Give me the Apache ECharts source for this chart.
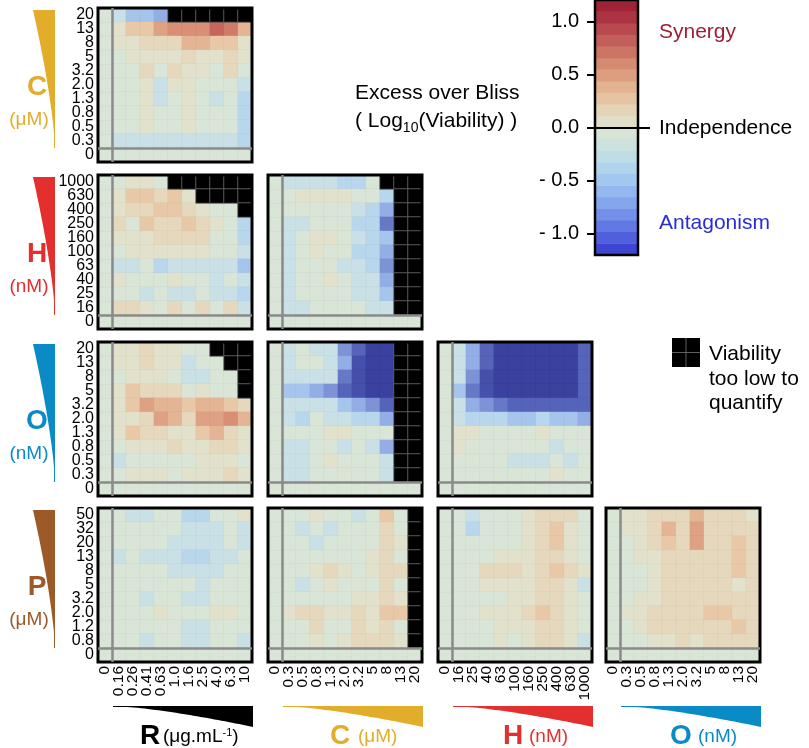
<!DOCTYPE html>
<html><head><meta charset="utf-8">
<script src="https://cdn.jsdelivr.net/npm/echarts@6/dist/echarts.min.js"></script>
<style>html,body{margin:0;padding:0;background:#fff}#c{width:809px;height:748px}</style>
</head><body><div id="c"></div>
<script>
// ---- concentrations (tick labels), lowest first ----
const R_conc = ['0','0.16','0.26','0.41','0.63','1.0','1.6','2.5','4.0','6.3','10'];
const C_conc = ['0','0.3','0.5','0.8','1.3','2.0','3.2','5','8','13','20'];
const H_conc = ['0','16','25','40','63','100','160','250','400','630','1000'];
const O_conc = ['0','0.3','0.5','0.8','1.3','2.0','3.2','5','8','13','20'];
const P_conc = ['0','0.8','1.2','2.0','3.2','5','8','13','20','32','50'];
const X = null; // viability too low to quantify

// ---- excess over Bliss; rows: highest conc first; cols: lowest nonzero conc first ----
const C_vs_R = [
 [-0.15,-0.35,-0.38,-0.45,X,X,X,X,X,X],
 [0.1,0.3,0.3,0.5,0.55,0.62,0.55,0.8,0.7,0.4],
 [0.05,0.1,0.15,0.2,0.2,0.35,0.35,0.25,0.25,0.05],
 [-0.05,0.05,0.1,0.1,0.1,0.15,0.1,0.1,0.2,0.05],
 [-0.05,0,0.15,-0.05,0.2,0.05,0.05,0,0.15,-0.05],
 [-0.05,-0.05,0.05,-0.12,0.05,0.1,0,0,0,-0.15],
 [-0.05,-0.05,0.05,-0.12,0,0.05,0,-0.12,-0.05,-0.25],
 [-0.05,0,0.05,0,0,0.1,0,-0.05,-0.05,-0.25],
 [-0.05,0,0.05,0,0,0.05,0,-0.05,-0.05,-0.22],
 [-0.15,-0.15,-0.12,-0.12,-0.12,-0.12,-0.2,-0.12,-0.15,-0.3]
];
const H_vs_R = [
 [0,0.1,0.1,-0.05,X,X,X,X,X,X],
 [0.05,0.3,0.25,0.2,0.3,0.05,X,X,X,X],
 [0.05,0.2,0.2,0.3,0.25,0.15,0.05,0,-0.05,X],
 [0.12,0,0.3,0.15,0.15,0.3,0.2,0.05,-0.05,-0.25],
 [0.05,0.05,0.05,0.15,0.15,0.12,0.15,0,0,-0.22],
 [0,0.05,0.05,0.1,0.1,0.1,0.05,0,-0.05,-0.15],
 [-0.2,-0.15,-0.05,-0.25,-0.12,-0.12,-0.15,-0.15,-0.2,-0.42],
 [0.05,0,0,0,0.1,0,-0.05,-0.12,0,-0.2],
 [0,-0.05,-0.12,-0.05,-0.12,-0.12,-0.05,-0.12,-0.12,-0.22],
 [0.12,0.15,0.05,0,0.15,0,0.15,0,0.12,-0.12]
];
const H_vs_C = [
 [-0.2,-0.2,-0.15,-0.15,-0.22,-0.25,-0.05,X,X,X],
 [-0.05,0.05,0.05,0.1,0.05,0,0,-0.3,X,X],
 [-0.05,-0.05,-0.05,0,-0.05,-0.12,-0.25,-0.5,X,X],
 [-0.15,-0.12,-0.05,-0.05,-0.05,-0.25,-0.3,-0.7,X,X],
 [-0.12,-0.05,0.08,0.05,-0.05,-0.15,-0.22,-0.4,X,X],
 [-0.12,-0.05,0.05,0,-0.05,-0.22,-0.3,-0.5,X,X],
 [-0.15,-0.05,0,0,-0.12,-0.15,-0.28,-0.62,X,X],
 [-0.12,0,0,0.1,-0.05,-0.12,-0.2,-0.45,X,X],
 [-0.12,-0.05,0,0,-0.05,-0.12,-0.2,-0.4,X,X],
 [-0.15,-0.15,-0.05,-0.05,-0.05,-0.05,-0.12,-0.15,X,X]
];
const O_vs_R = [
 [0.05,0.05,0.15,0.1,0.1,-0.05,0,X,X,X],
 [0.05,0.05,0.2,0.1,0.05,-0.15,0,-0.05,X,X],
 [0,0.05,0.1,0.05,0,-0.15,-0.12,0,-0.05,X],
 [0.05,0.25,0.2,0.2,0.15,0,0.05,0,-0.05,X],
 [0.1,0.3,0.45,0.4,0.35,0.3,0.35,0.4,0.3,0.15],
 [0.05,0.05,0.15,0.5,0.42,0.2,0.45,0.45,0.6,0.35],
 [0.05,0.25,0.2,0.2,0.1,0.05,0.25,0.35,0.15,0.05],
 [-0.05,0.1,0.05,0.05,0.15,0.1,0.1,0.15,0.15,0.05],
 [-0.12,0,-0.05,0,0,0,0.05,0.05,0.1,0],
 [-0.05,0.05,0.05,0.05,0,0.05,0.05,0.05,0.15,0.05]
];
const O_vs_C = [
 [-0.15,-0.1,-0.12,-0.12,-0.55,-0.85,-1.0,-1.0,X,X],
 [-0.15,-0.05,0,-0.12,-0.5,-0.9,-1.0,-1.0,X,X],
 [-0.2,-0.15,-0.12,-0.12,-0.72,-0.92,-1.0,-1.0,X,X],
 [-0.42,-0.35,-0.5,-0.55,-0.85,-0.92,-1.0,-1.0,X,X],
 [-0.15,-0.15,-0.15,-0.2,-0.4,-0.45,-0.6,-0.8,X,X],
 [-0.2,-0.3,-0.1,-0.12,-0.2,-0.25,-0.3,-0.5,X,X],
 [-0.1,-0.05,0,0.05,0.1,0,0,-0.05,X,X],
 [-0.15,-0.15,-0.05,-0.05,-0.15,-0.1,-0.2,-0.45,X,X],
 [-0.12,-0.12,0,0.05,0,0,0,-0.12,X,X],
 [-0.15,-0.12,0,0,0,0,0,-0.12,X,X]
];
const O_vs_H = [
 [-0.2,-0.45,-0.8,-1.0,-1.0,-1.0,-1.0,-1.0,-1.0,-0.8],
 [-0.2,-0.45,-0.85,-1.0,-1.0,-1.0,-1.0,-1.0,-1.0,-0.8],
 [-0.2,-0.55,-0.95,-1.0,-1.0,-1.0,-1.0,-1.0,-1.0,-0.8],
 [-0.4,-0.7,-0.95,-1.0,-1.0,-1.0,-1.0,-1.0,-1.0,-0.8],
 [-0.2,-0.45,-0.65,-0.75,-0.85,-0.85,-0.8,-0.8,-0.85,-0.85],
 [-0.15,-0.3,-0.3,-0.3,-0.35,-0.4,-0.3,-0.4,-0.35,-0.45],
 [0.05,0.1,0,0,-0.05,0,0.05,0,-0.05,-0.05],
 [0.05,0,-0.05,-0.05,0,-0.05,-0.05,-0.12,-0.05,-0.05],
 [0,-0.05,-0.05,-0.05,-0.12,-0.15,-0.12,-0.05,-0.12,-0.05],
 [-0.05,-0.05,-0.05,0,-0.05,-0.05,0,0.05,-0.05,0]
];
const P_vs_R = [
 [-0.05,-0.12,-0.15,-0.05,-0.05,-0.22,-0.22,-0.05,0,0.05],
 [-0.05,-0.05,-0.05,0,-0.05,-0.2,-0.15,-0.12,-0.05,-0.15],
 [-0.05,-0.05,-0.05,-0.05,-0.12,-0.2,-0.15,-0.12,-0.05,-0.15],
 [-0.12,-0.05,-0.12,-0.15,-0.12,-0.22,-0.22,-0.2,-0.12,-0.05],
 [-0.05,-0.05,-0.05,-0.05,-0.12,-0.12,-0.15,-0.12,-0.05,-0.05],
 [0,0,-0.05,0,0,-0.05,-0.12,0,0,-0.05],
 [-0.05,-0.05,-0.12,-0.05,0,-0.15,-0.12,-0.05,0,-0.05],
 [-0.05,0,0,0.05,0,-0.05,-0.05,0.05,0.05,-0.05],
 [-0.05,-0.05,-0.05,0,-0.05,-0.15,-0.12,-0.05,-0.05,-0.05],
 [-0.05,-0.05,-0.12,-0.05,0,-0.12,-0.12,-0.05,-0.05,-0.12]
];
const P_vs_C = [
 [0,0,0.05,0,-0.05,-0.12,0,0.25,-0.05,X],
 [-0.05,-0.12,0,-0.15,-0.05,-0.05,0,0.15,0,X],
 [0,-0.05,-0.12,0,-0.05,0,0,0.15,0.05,X],
 [0,0,-0.05,0,0,0,0.05,0.12,0,X],
 [0,0,0.05,0.12,0.05,0,0.05,0.2,0.12,X],
 [-0.05,-0.12,0,0.05,0,0,0,0.12,0,X],
 [0,0,0,0,0,0.05,0.05,0.15,0.05,X],
 [0.05,0.12,0.15,0.05,0.05,0.15,0.05,0.25,0.25,X],
 [0,0,0.15,0,0,0.12,0.05,0.15,-0.05,X],
 [0,0,0.05,0,0.05,0.15,0.12,0.2,0.05,X]
];
const P_vs_H = [
 [-0.05,-0.12,0,0,0,0.05,0.12,0.2,0.12,0],
 [-0.05,-0.22,0,0,0,0.05,0.12,0.28,0.05,-0.05],
 [-0.05,-0.05,-0.05,0,0,0.05,0.12,0.22,0.05,0],
 [0,0,0,0.05,0.05,0.05,0.12,0.15,0.05,0],
 [0,0,0.12,0.12,0.12,0.05,0.12,0.22,0.12,0.05],
 [0,0,0.05,0.05,0.05,0.05,0.12,0.12,0.05,-0.15],
 [-0.05,-0.05,0,0,0.05,0.05,0.12,0.12,0.05,-0.05],
 [0,0,0.05,0.05,0.05,0.12,0.22,0.15,0.05,-0.05],
 [0,-0.05,0,0.05,0.05,0.05,0.15,0.15,0.05,-0.05],
 [0,-0.05,0,0.05,0,0.05,0.12,0.18,0.05,-0.12]
];
const P_vs_O = [
 [0.05,0.05,0.12,0.2,0.15,0.4,0.15,0.15,0.12,0.05],
 [0.05,0.05,0.15,0.38,0.2,0.5,0.2,0.15,0.12,0.12],
 [0,0.05,0.12,0.3,0.15,0.5,0.15,0.15,0.3,0.15],
 [-0.05,0.05,0.05,0.15,0.15,0.2,0.15,0.15,0.25,0.15],
 [-0.05,0,0.05,0.12,0.15,0.2,0.15,0.15,0.3,0.2],
 [-0.05,0,0.05,0.12,0.12,0.15,0.15,0.12,0.05,0.2],
 [0,0.05,0.05,0.15,0.12,0.15,0.12,0.15,0.15,0.2],
 [0.05,0.05,0.15,0.2,0.12,0.12,0.25,0.25,0.2,0.2],
 [0,0.05,0.12,0.15,0.12,0.15,0.2,0.2,0.25,0.12],
 [0,0,0.05,0.05,0.12,0.05,0.12,0.15,0.15,0.12]
];

// ---- colour scale: 22 bands from -1.2 to 1.2 ----
const scaleMin = -1.2, scaleMax = 1.2, nBands = 22;
const barColors = ['#3d45d3','#5060dd','#6279e4','#7490ea','#84a6ed','#93b8ef','#a2c8ef','#b0d4ec','#bedde6','#cbe2de','#d8e4d5',
                   '#dfdfc9','#e4d5b8','#e6c4a3','#e3b290','#dd9e80','#d58a72','#cc7565','#c25f5b','#b84a4f','#ab3343','#9e2335'];
const cellColors = ['#363a94','#3b419e','#4550aa','#5563b8','#6778c6','#7d93d6','#92aee4','#a6c5ec','#b8d6ec','#c8e0e6','#d9e5d6',
                    '#e2e2cc','#e6d8bc','#e8c8a6','#e4b594','#dfa184','#d98e76','#d07a68','#c7655c','#bb4f50','#ad3744','#9e2437'];
const cbTicks = [-1.0, -0.5, 0.0, 0.5, 1.0];

const rowDrugs = [C_conc, H_conc, O_conc, P_conc];
const colDrugs = [R_conc, C_conc, H_conc, O_conc];
const panels = [
  {r:0,c:0,m:C_vs_R},
  {r:1,c:0,m:H_vs_R},{r:1,c:1,m:H_vs_C},
  {r:2,c:0,m:O_vs_R},{r:2,c:1,m:O_vs_C},{r:2,c:2,m:O_vs_H},
  {r:3,c:0,m:P_vs_R},{r:3,c:1,m:P_vs_C},{r:3,c:2,m:P_vs_H},{r:3,c:3,m:P_vs_O}
];

const colLeft = [98, 268, 438, 606], rowTop = [8, 175, 342, 508], size = 154;
const FONT = '"Liberation Sans", Arial, sans-serif';

function build(m){
  const col = [], blk = [];
  for (let x = 0; x < 11; x++) col.push([x, 0, 0]);
  for (let y = 1; y < 11; y++) col.push([0, y, 0]);
  m.forEach((row, i) => {
    const y = 10 - i;
    row.forEach((v, j) => {
      if (v === null) blk.push([j + 1, y, 1]); else col.push([j + 1, y, v]);
    });
  });
  return {col, blk};
}

const grids = [], xAxes = [], yAxes = [], series = [], cellIdx = [];
panels.forEach((p, k) => {
  grids.push({left: colLeft[p.c], top: rowTop[p.r], width: size, height: size,
    show: true, borderColor: '#000', borderWidth: 3, backgroundColor: 'transparent', z: 4});
  xAxes.push({gridIndex: k, type: 'category', data: colDrugs[p.c],
    axisLine: {show: false}, axisTick: {show: false}, splitLine: {show: false},
    axisLabel: {show: p.r === 3, rotate: 90, interval: 0, margin: 4, fontSize: 15.5, color: '#000', fontFamily: FONT}});
  yAxes.push({gridIndex: k, type: 'category', data: rowDrugs[p.r],
    axisLine: {show: false}, axisTick: {show: false}, splitLine: {show: false},
    axisLabel: {show: p.c === 0, interval: 0, margin: 4, fontSize: 16, color: '#000', fontFamily: FONT}});
  const d = build(p.m);
  cellIdx.push(series.length);
  series.push({type: 'heatmap', xAxisIndex: k, yAxisIndex: k, data: d.col,
    itemStyle: {borderColor: 'rgba(0,0,0,0.05)', borderWidth: 0.6}, emphasis: {disabled: true}});
  series.push({type: 'heatmap', xAxisIndex: k, yAxisIndex: k, data: d.blk,
    itemStyle: {color: '#000', borderColor: '#6a6a6a', borderWidth: 0.8}, emphasis: {disabled: true}});
});

// colour bar
const bandW = (scaleMax - scaleMin) / nBands;
const bandCats = barColors.map((_, i) => String(i));
const bandData = barColors.map((_, i) => [0, i, scaleMin + (i + 0.5) * bandW]);
const cbTop = 0, cbH = 255;
const pxPerUnit = cbH / (scaleMax - scaleMin);
const gi = grids.length;
grids.push({left: 595, top: cbTop, width: 43, height: cbH, show: true, borderColor: '#000', borderWidth: 2.5, backgroundColor: 'transparent', z: 4});
xAxes.push({gridIndex: gi, type: 'category', data: ['b'], show: false});
yAxes.push({gridIndex: gi, type: 'category', data: bandCats, show: false});
const cbSeries = series.length;
series.push({type: 'heatmap', xAxisIndex: gi, yAxisIndex: gi, data: bandData, emphasis: {disabled: true}});
// colour bar ticks
const tMin = cbTicks[0], tMax = cbTicks[cbTicks.length - 1];
grids.push({left: 587, top: cbTop + (scaleMax - tMax) * pxPerUnit, width: 63, height: (tMax - tMin) * pxPerUnit, show: false});
xAxes.push({gridIndex: gi + 1, type: 'value', min: 0, max: 1, show: false});
yAxes.push({gridIndex: gi + 1, type: 'value', min: tMin, max: tMax, interval: 0.5, position: 'left',
  axisLine: {show: false}, splitLine: {show: false},
  axisTick: {show: true, inside: true, length: 8, lineStyle: {color: '#000', width: 2}},
  axisLabel: {margin: 8, fontSize: 20, color: '#000', fontFamily: FONT,
    formatter: v => v < 0 ? '- ' + Math.abs(v).toFixed(1) : v.toFixed(1)}});
series.push({type: 'line', xAxisIndex: gi + 1, yAxisIndex: gi + 1, data: [[0, 0]], showSymbol: false, z: 10,
  lineStyle: {opacity: 0}, silent: true,
  markLine: {silent: true, symbol: 'none', label: {show: false}, lineStyle: {color: '#000', width: 2, type: 'solid'},
    data: [{yAxis: 0}]}});

// grey separators of the single-drug row / column: overlay value axes per panel (0..11 cells)
panels.forEach((p, k) => {
  const xi = xAxes.length, yi = yAxes.length;
  xAxes.push({gridIndex: k, type: 'value', min: 0, max: 11, show: false});
  yAxes.push({gridIndex: k, type: 'value', min: 0, max: 11, show: false});
  series.push({type: 'line', xAxisIndex: xi, yAxisIndex: yi, data: [[0, 0]], showSymbol: false, z: 3,
    lineStyle: {opacity: 0}, silent: true,
    markLine: {silent: true, symbol: 'none', label: {show: false}, lineStyle: {color: '#8a8a8a', width: 2.5, type: 'solid'},
      data: [{xAxis: 1}, {yAxis: 1}]}});
});

function pieces(colors){
  return colors.map((c, i) => ({gt: scaleMin + i * bandW - (i === 0 ? 10 : 0), lte: scaleMin + (i + 1) * bandW + (i === nBands - 1 ? 10 : 0), color: c}));
}

// decorations
function vWedge(x1, y0, y1, w, color){
  const pts = [[x1 - w, y0], [x1, y0], [x1, y1]];
  for (let i = 40; i >= 0; i--) { const t = i / 40; pts.push([x1 - Math.max(1, w * Math.pow(1 - t, 1.4)), y0 + t * (y1 - y0)]); }
  return {type: 'polygon', shape: {points: pts}, style: {fill: color}, silent: true};
}
function hWedge(x0, x1, y0, h, color){
  const pts = [[x0, y0], [x1, y0], [x1, y0 + h]];
  for (let i = 40; i >= 0; i--) { const s = i / 40; pts.push([x0 + s * (x1 - x0), y0 + Math.max(1, h * Math.pow(s, 1.4))]); }
  return {type: 'polygon', shape: {points: pts}, style: {fill: color}, silent: true};
}
function txt(x, y, text, size, color, opts){
  return {type: 'text', x, y, silent: true, style: Object.assign({text, fill: color, fontSize: size, fontFamily: FONT,
    align: 'left', verticalAlign: 'middle'}, opts || {})};
}
const gold = '#e2ad2b', red = '#e3302f', blue = '#0a8bc6', brown = '#9b5a28';
const rowMeta = [[gold, 'C', '(μM)'], [red, 'H', '(nM)'], [blue, 'O', '(nM)'], [brown, 'P', '(μM)']];
const graphics = [];
rowMeta.forEach((m, r) => {
  const y0 = rowTop[r] + 2;
  graphics.push(vWedge(55, y0, y0 + 138, 22, m[0]));
  graphics.push(txt(37, y0 + 77, m[1], 28, m[0], {fontWeight: 'bold', align: 'center'}));
  graphics.push(txt(29, y0 + 110, m[2], 19, m[0], {align: 'center'}));
});
const colMeta = [['#000', 'R', '(μg.mL{s|-1})', 150, 163], [gold, 'C', '(μM)', 340, 358], [red, 'H', '(nM)', 513, 529], [blue, 'O', '(nM)', 681, 698]];
colMeta.forEach((m, c) => {
  graphics.push(hWedge(colLeft[c] + 15, colLeft[c] + size + 1, 706, 21, m[0]));
  graphics.push(txt(m[3], 736, m[1], 28, m[0], {fontWeight: 'bold', align: 'center'}));
  graphics.push(txt(m[4], 737, m[2], 19, m[0], {rich: {s: {fontSize: 11, verticalAlign: 'top', fill: m[0], fontFamily: FONT}}}));
});
graphics.push(txt(355, 93, 'Excess over Bliss', 21, '#000'));
graphics.push(txt(355, 121, '( Log{s|10}(Viability) )', 21, '#000', {rich: {s: {fontSize: 14, verticalAlign: 'bottom', fontFamily: FONT, fill: '#000', padding: [0, 0, -4, 0]}}}));
graphics.push(txt(659, 32, 'Synergy', 21, '#9b1f35'));
graphics.push(txt(659, 128, 'Independence', 21, '#000'));
graphics.push(txt(659, 223, 'Antagonism', 21, '#2b2bd6'));
graphics.push({type: 'rect', shape: {x: 672, y: 338, width: 28, height: 29}, style: {fill: '#000'}, silent: true});
graphics.push({type: 'line', shape: {x1: 686, y1: 338, x2: 686, y2: 367}, style: {stroke: '#777', lineWidth: 0.8}, silent: true});
graphics.push({type: 'line', shape: {x1: 672, y1: 352.5, x2: 700, y2: 352.5}, style: {stroke: '#777', lineWidth: 0.8}, silent: true});
graphics.push(txt(709, 354, 'Viability', 21, '#000'));
graphics.push(txt(709, 379, 'too low to', 21, '#000'));
graphics.push(txt(709, 403, 'quantify', 21, '#000'));

const chart = echarts.init(document.getElementById('c'), null, {renderer: 'canvas'});
chart.setOption({
  animation: false,
  backgroundColor: '#fff',
  grid: grids, xAxis: xAxes, yAxis: yAxes,
  visualMap: [
    {type: 'piecewise', show: false, seriesIndex: cellIdx, dimension: 2, pieces: pieces(cellColors)},
    {type: 'piecewise', show: false, seriesIndex: cbSeries, dimension: 2, pieces: pieces(barColors)}
  ],
  series: series,
  graphic: graphics
});
</script></body></html>
